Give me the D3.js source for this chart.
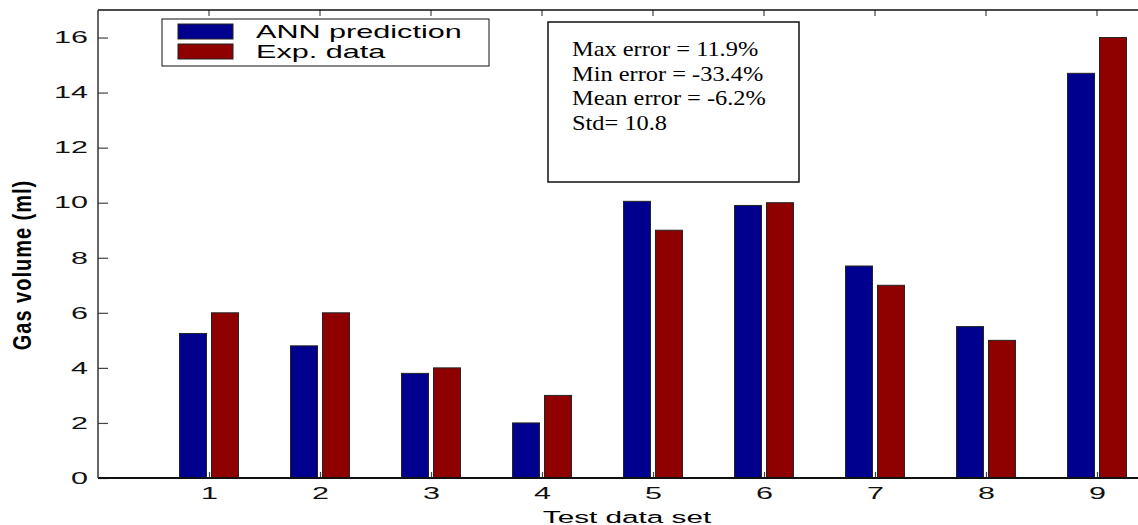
<!DOCTYPE html>
<html lang="en">
<head>
  <meta charset="UTF-8" />
  <script src="https://cdn.jsdelivr.net/npm/d3@7/dist/d3.min.js"></script>
  <style>
    body { margin: 0; background: #fff; }
  </style>
</head>
<body>
  <svg width="1138" height="525" font-family="Liberation Sans, Arial, sans-serif"></svg>
  <script>
    // data
    const sets = [1, 2, 3, 4, 5, 6, 7, 8, 9];
    const annPrediction = [5.25, 4.8, 3.8, 2.0, 10.05, 9.9, 7.7, 5.5, 14.7];
    const expData = [6, 6, 4, 3, 9, 10, 7, 5, 16];
    const yTicks = [0, 2, 4, 6, 8, 10, 12, 14, 16];
    const seriesNames = ["ANN prediction", "Exp. data"];
    const seriesColors = ["#00008f", "#8f0000"];
    const statsLines = ["Max error = 11.9%", "Min error = -33.4%", "Mean error = -6.2%", "Std= 10.8"];

    const svg = d3.select("svg");
    const plotLeft = 98, plotTop = 10, plotBottom = 478;

    // the source picture is stretched sideways, so the text is too
    const stretchedText = (parent, X, Y, sx, str) =>
      parent.append("text")
        .attr("transform", `translate(${X},${Y}) scale(${sx},1)`)
        .text(str);

    // x in data units, MATLAB style: xlim [0 10]
    const x = d3.scaleLinear().domain([0, 10]).range([plotLeft, plotLeft + 1110]);
    const y = d3.scaleLinear().domain([0, 17]).range([plotBottom, plotTop]);

    const barW = 0.243, off = 0.144;
    const series = [annPrediction, expData];

    series.forEach((vals, i) => {
      svg.append("g")
        .selectAll("rect")
        .data(vals)
        .enter()
        .append("rect")
        .attr("x", (d, j) => x(sets[j] + (i === 0 ? -off : off) - barW / 2))
        .attr("y", d => y(d))
        .attr("width", x(barW) - x(0))
        .attr("height", d => y(0) - y(d))
        .attr("fill", seriesColors[i])
        .attr("stroke", "#222")
        .attr("stroke-width", 1);
    });

    // axes
    const tickSx = 1.85;
    const yAxis = d3.axisLeft(y).tickValues(yTicks).tickSize(-10);
    const gy = svg.append("g").attr("transform", `translate(${plotLeft},0)`).call(yAxis)
      .attr("font-family", null);
    gy.select(".domain").remove();
    gy.selectAll(".tick line").attr("stroke", "#444").attr("stroke-width", 1.2);
    gy.selectAll("text").attr("font-size", 16.5).attr("fill", "#111")
      .attr("x", -10 / tickSx).attr("transform", `scale(${tickSx},1)`);

    const xAxis = d3.axisBottom(x).tickValues(sets).tickSize(-6);
    const gx = svg.append("g").attr("transform", `translate(0,${plotBottom})`).call(xAxis)
      .attr("font-family", null);
    gx.select(".domain").remove();
    gx.selectAll(".tick line").attr("stroke", "#444").attr("stroke-width", 1.2);
    gx.selectAll("text").attr("font-size", 16.5).attr("fill", "#111")
      .attr("y", 21).attr("dy", 0).attr("transform", `scale(${tickSx},1)`);

    // top ticks
    svg.append("g").selectAll("line").data(sets).enter().append("line")
      .attr("x1", d => x(d)).attr("x2", d => x(d))
      .attr("y1", plotTop).attr("y2", plotTop + 6)
      .attr("stroke", "#444").attr("stroke-width", 1.2);

    // box lines
    svg.append("line").attr("x1", plotLeft).attr("x2", 1138).attr("y1", plotBottom).attr("y2", plotBottom)
      .attr("stroke", "#111").attr("stroke-width", 2);
    svg.append("line").attr("x1", plotLeft).attr("x2", 1138).attr("y1", plotTop).attr("y2", plotTop)
      .attr("stroke", "#111").attr("stroke-width", 1.5);
    svg.append("line").attr("x1", plotLeft).attr("x2", plotLeft).attr("y1", plotTop).attr("y2", plotBottom)
      .attr("stroke", "#333").attr("stroke-width", 1.5);

    // axis labels
    svg.append("text")
      .attr("transform", "translate(31,265) scale(1.25,1) rotate(-90)")
      .attr("text-anchor", "middle")
      .attr("font-size", 20).attr("font-weight", "bold")
      .attr("letter-spacing", 1)
      .text("Gas  volume  (ml)");
    stretchedText(svg, 627, 523, 1.8, "Test data set")
      .attr("text-anchor", "middle")
      .attr("font-size", 16.5);

    // legend
    const lg = svg.append("g");
    lg.append("rect").attr("x", 162).attr("y", 19).attr("width", 327).attr("height", 47)
      .attr("fill", "#fff").attr("stroke", "#111").attr("stroke-width", 1);
    seriesNames.forEach((name, i) => {
      lg.append("rect").attr("x", 178).attr("y", 24 + i * 20).attr("width", 55).attr("height", 15)
        .attr("fill", seriesColors[i]).attr("stroke", "#222");
      stretchedText(lg, 256, 38 + i * 20, 1.7, name).attr("font-size", 18);
    });

    // stats box
    const sb = svg.append("g");
    sb.append("rect").attr("x", 548).attr("y", 22).attr("width", 251).attr("height", 160)
      .attr("fill", "#fff").attr("stroke", "#111").attr("stroke-width", 1.5);
    statsLines.forEach((t, i) => {
      stretchedText(sb, 572, 56 + i * 24.7, 1.22, t)
        .attr("font-family", "Liberation Serif, Times New Roman, serif")
        .attr("font-size", 20);
    });
  </script>
</body>
</html>
